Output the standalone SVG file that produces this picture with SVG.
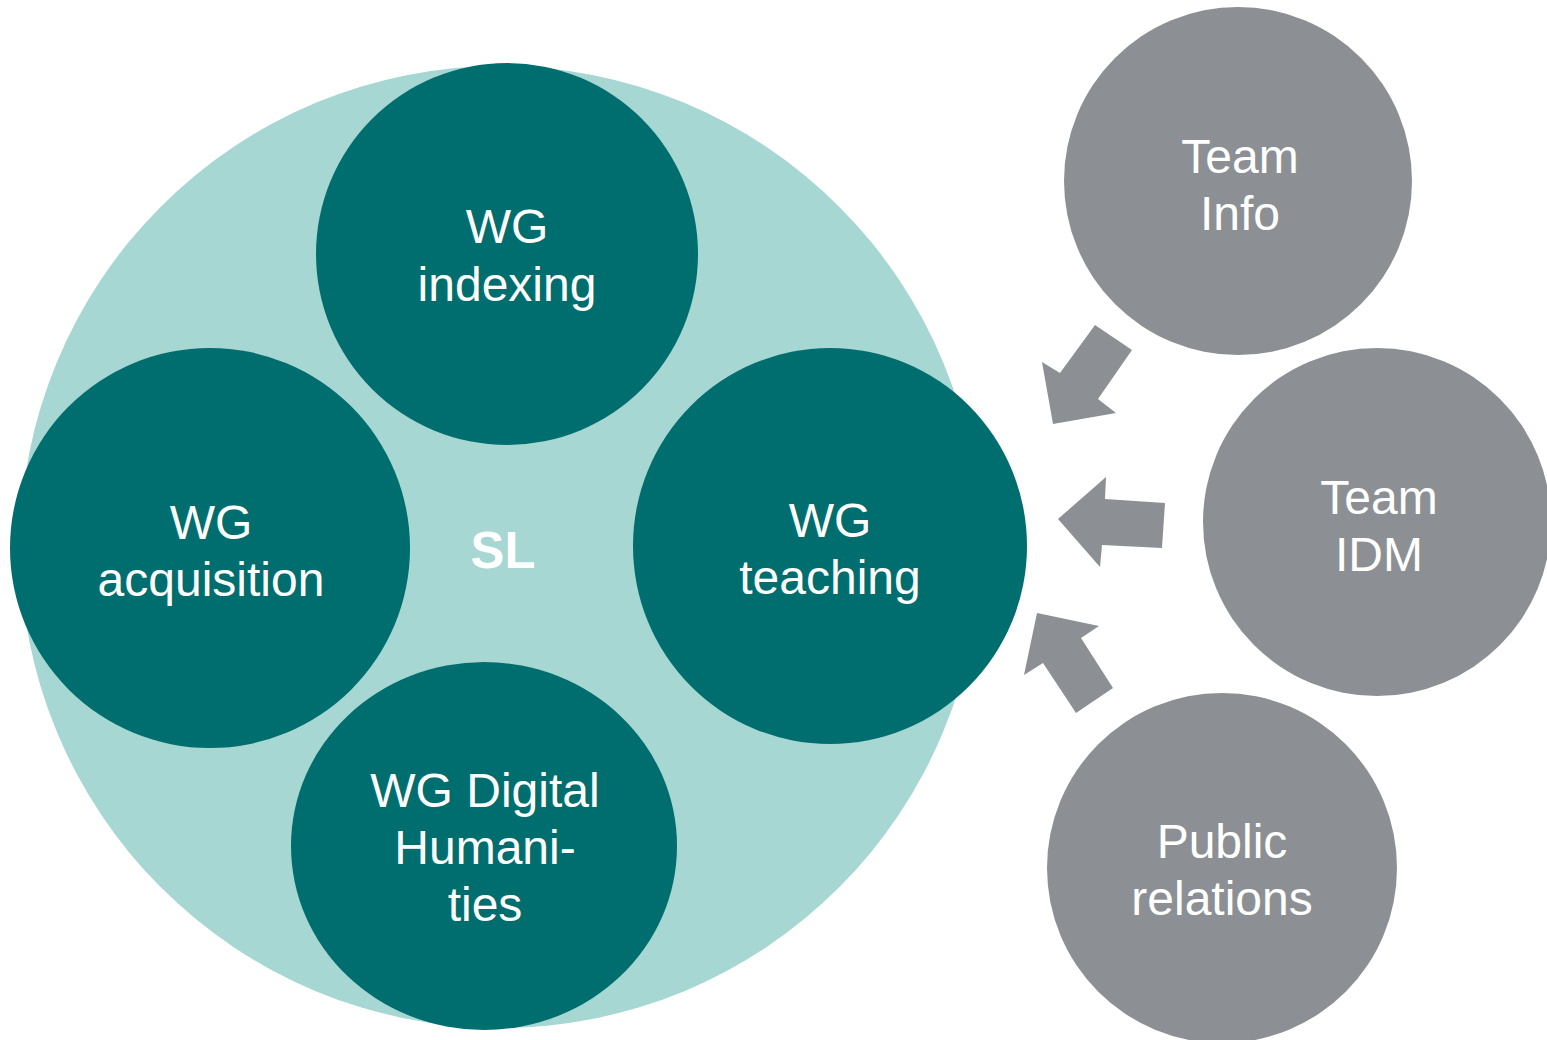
<svg xmlns="http://www.w3.org/2000/svg" width="1547" height="1040" viewBox="0 0 1547 1040">
<style>
.wg{fill:#006E6E}
.team{fill:#8C9094}
.arrow{fill:#8C9094}
.lbl{font-family:"Liberation Sans",Arial,sans-serif;font-size:48px;fill:#FFFFFF;text-anchor:middle}
.sl{font-family:"Liberation Sans",Arial,sans-serif;font-size:51px;font-weight:bold;fill:#FFFFFF;text-anchor:middle}
</style>
<rect width="1547" height="1040" fill="#FFFFFF"/>
<g id="SL">
<ellipse cx="500" cy="547" rx="480" ry="481" fill="#A6D7D3"/>
<text class="sl" x="503" y="568">SL</text>
</g>
<g id="wg-indexing">
<ellipse class="wg" cx="507" cy="254" rx="191" ry="191"/>
<text class="lbl" x="507" y="243">WG</text>
<text class="lbl" x="507" y="301">indexing</text>
</g>
<g id="wg-acquisition">
<ellipse class="wg" cx="210" cy="548" rx="200" ry="200"/>
<text class="lbl" x="211" y="539">WG</text>
<text class="lbl" x="211" y="596">acquisition</text>
</g>
<g id="wg-teaching">
<ellipse class="wg" cx="830" cy="546" rx="197" ry="198"/>
<text class="lbl" x="830" y="537">WG</text>
<text class="lbl" x="830" y="594">teaching</text>
</g>
<g id="wg-dh">
<ellipse class="wg" cx="484" cy="846" rx="193" ry="184"/>
<text class="lbl" x="485" y="807">WG Digital</text>
<text class="lbl" x="485" y="864">Humani-</text>
<text class="lbl" x="485" y="921">ties</text>
</g>
<g id="team-info">
<circle class="team" cx="1238" cy="181" r="174"/>
<text class="lbl" x="1240" y="173">Team</text>
<text class="lbl" x="1240" y="230">Info</text>
</g>
<g id="team-idm">
<circle class="team" cx="1377" cy="522" r="174"/>
<text class="lbl" x="1379" y="514">Team</text>
<text class="lbl" x="1379" y="571">IDM</text>
</g>
<g id="public-relations">
<circle class="team" cx="1222" cy="868" r="175"/>
<text class="lbl" x="1222" y="858">Public</text>
<text class="lbl" x="1222" y="915">relations</text>
</g>
<g id="connectors">
<polygon class="arrow" points="1095,325 1132,350 1098,399 1116,413 1053,424 1042,362 1060,373"/>
<polygon class="arrow" points="1165,503 1162,548 1102,545 1100,567 1058,519 1106,477 1105,499"/>
<polygon class="arrow" points="1037,613 1099,626 1081,638 1113,688 1076,713 1043,663 1024,675"/>
</g>
</svg>
